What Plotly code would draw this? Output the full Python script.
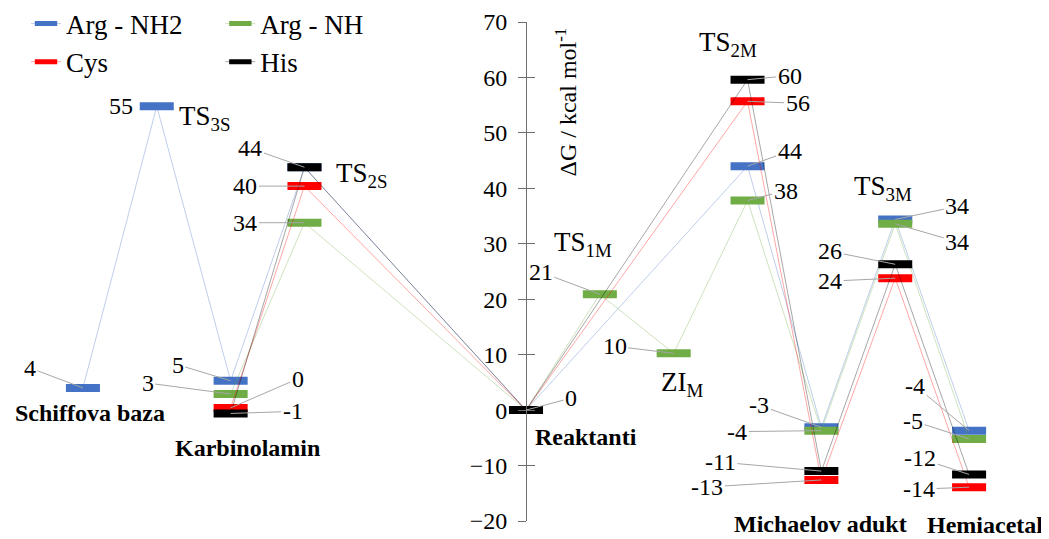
import plotly.graph_objects as go

# ---------------- data ----------------
stages = ["Schiffova baza", "TS3S", "Karbinolamin", "TS2S", "", "",
          "Reaktanti", "TS1M", "ZIM", "TS2M", "Michaelov adukt", "TS3M", "Hemiacetal"]
arg_nh2 = [4.0, 54.8, 5.3, 43.8, None, None, 0.0, None, None, 44.0, -3.1, 34.4, -3.7]
arg_nh = [None, None, 2.9, 33.8, None, None, 0.0, 20.9, 10.25, 37.8, -3.7, 33.6, -5.2]
cys = [None, None, 0.4, 40.4, None, None, 0.0, None, None, 55.7, -12.6, 23.8, -13.9]
his = [None, None, -0.6, 43.8, None, None, 0.0, None, None, 59.6, -11.0, 26.3, -11.6]
series_names = ["Arg - NH2", "Arg - NH", "Cys", "His"]
y_ticks = [-20, -10, 0, 10, 20, 30, 40, 50, 60, 70]

# ---------------- style ----------------
FONT = "Liberation Serif"
colors = ["#4472C4", "#70AD47", "#FF0000", "#000000"]
line_colors = ["rgba(68,114,196,0.35)", "rgba(112,173,71,0.35)",
               "rgba(255,0,0,0.35)", "rgba(0,0,0,0.35)"]
legends = ["legend", "legend2", "legend", "legend2"]

# data-label pixel offsets (text centre relative to bar centre), per series & stage
label_offsets = [
    {0: (-53, -20), 1: "left", 2: (-53, -16), 9: (42, -15), 10: (-62, -22), 11: (62, -13), 12: (-54, -45)},
    {2: (-83, -11), 3: (-59, 0), 7: (-59, -22), 8: (-59, -7), 9: (38, -10), 10: (-84, 1), 11: (62, 18), 12: (-56, -18)},
    {2: (67, -29), 3: (-59, 0), 9: (50, 2), 10: (-114, 7), 11: (-65, 3), 12: (-50, 2)},
    {2: (62, -2), 3: (-54, -19), 6: (45, -12), 9: (42, -4), 10: (-101, -9), 11: (-65, -13), 12: (-49, -16)},
]

# stage name labels: (stage index, text, which value to anchor: 'min'/'max', xshift, yshift, bold)
stage_labels = [
    (0, "Schiffova baza", "min", 7, -25, True),
    (2, "Karbinolamin", "min", 17, -35, True),
    (6, "Reaktanti", "min", 60, -27, True),
    (10, "Michaelov adukt", "min", -1, -44, True),
    (12, "Hemiacetal", "min", 16, -38, True),
    (1, "TS<sub>3S</sub>", "max", 48, -12, False),
    (3, "TS<sub>2S</sub>", "max", 57, -8, False),
    (7, "TS<sub>1M</sub>", "max", -17, 50, False),
    (8, "ZI<sub>M</sub>", "min", 8, -31, False),
    (9, "TS<sub>2M</sub>", "max", -20, 36, False),
    (11, "TS<sub>3M</sub>", "max", -12, 31, False),
]

xs = list(range(len(stages)))
all_series = [arg_nh2, arg_nh, cys, his]

fig = go.Figure()
for name, vals, col, lcol, lg in zip(series_names, all_series, colors, line_colors, legends):
    fig.add_trace(go.Scatter(
        x=xs, y=vals, name=name, mode="lines+markers", connectgaps=True,
        line=dict(color=lcol, width=1),
        marker=dict(symbol="line-ew", size=24.3, color=col, line=dict(color=col, width=8)),
        legend=lg, cliponaxis=False, hoverinfo="skip",
    ))

annotations = []
for vals, offs in zip(all_series, label_offsets):
    for i, off in offs.items():
        v = vals[i]
        txt = str(int(round(v)))
        if off == "left":
            annotations.append(dict(x=i, y=v, xref="x", yref="y", text=txt, showarrow=False,
                                    xanchor="right", xshift=-22,
                                    font=dict(family=FONT, size=24, color="black")))
        else:
            annotations.append(dict(x=i, y=v, xref="x", yref="y", text=txt, showarrow=True,
                                    ax=off[0], ay=off[1], arrowhead=0, arrowwidth=1,
                                    arrowcolor="#A6A6A6", standoff=0,
                                    font=dict(family=FONT, size=24, color="black")))

for i, text, which, dx, dy, bold in stage_labels:
    present = [s[i] for s in all_series if s[i] is not None]
    v = min(present) if which == "min" else max(present)
    annotations.append(dict(x=i, y=v, xref="x", yref="y",
                            text=f"<b>{text}</b>" if bold else text, showarrow=False,
                            xshift=dx, yshift=dy,
                            font=dict(family=FONT, size=24 if bold else 27, color="black")))

# y-axis title (right of the axis, rotated)
annotations.append(dict(x=6, y=max(y_ticks), xref="x", yref="y", text="ΔG / kcal mol<sup>-1</sup>",
                        textangle=-90, showarrow=False, xanchor="center", yanchor="top",
                        xshift=39, yshift=-4, font=dict(family=FONT, size=24, color="black")))

n = len(stages)
# figure is placed 8px from the page's top-left corner (default body margin)
fig.update_layout(
    width=1041, height=531,
    margin=dict(l=38, r=43, t=14, b=18, autoexpand=False),
    font=dict(family=FONT, color="black"),
    plot_bgcolor="white", paper_bgcolor="white",
    xaxis=dict(range=[-0.5, n - 0.5], visible=False, showgrid=False, zeroline=False),
    yaxis=dict(range=[min(y_ticks), max(y_ticks)], tickvals=y_ticks, anchor="free",
               position=(6 + 0.5) / n, showgrid=False, zeroline=False,
               showline=True, linecolor="#6E6E6E", linewidth=1,
               ticks="outside", ticklen=8, tickcolor="#6E6E6E", tickwidth=1,
               ticklabelstandoff=6,
               tickfont=dict(family=FONT, size=24, color="black")),
    yaxis2=dict(matches="y", overlaying="y", anchor="free", position=(6 + 0.5) / n,
                tickvals=y_ticks, showgrid=False, zeroline=False, showline=False,
                ticks="inside", ticklen=8, tickcolor="#6E6E6E", tickwidth=1,
                showticklabels=False),
    legend=dict(xref="container", yref="paper", x=0.0173, y=1.045, xanchor="left",
                yanchor="top", orientation="v", bgcolor="rgba(0,0,0,0)",
                font=dict(family=FONT, size=27, color="black"), tracegroupgap=0),
    legend2=dict(xref="container", yref="paper", x=0.204, y=1.045, xanchor="left",
                 yanchor="top", orientation="v", bgcolor="rgba(0,0,0,0)",
                 font=dict(family=FONT, size=27, color="black"), tracegroupgap=0),
    annotations=annotations,
    showlegend=True,
)
# dummy trace to show inside ticks on yaxis2
fig.add_trace(go.Scatter(x=[None], y=[None], yaxis="y2", showlegend=False, hoverinfo="skip"))

fig.write_html("out.html")
